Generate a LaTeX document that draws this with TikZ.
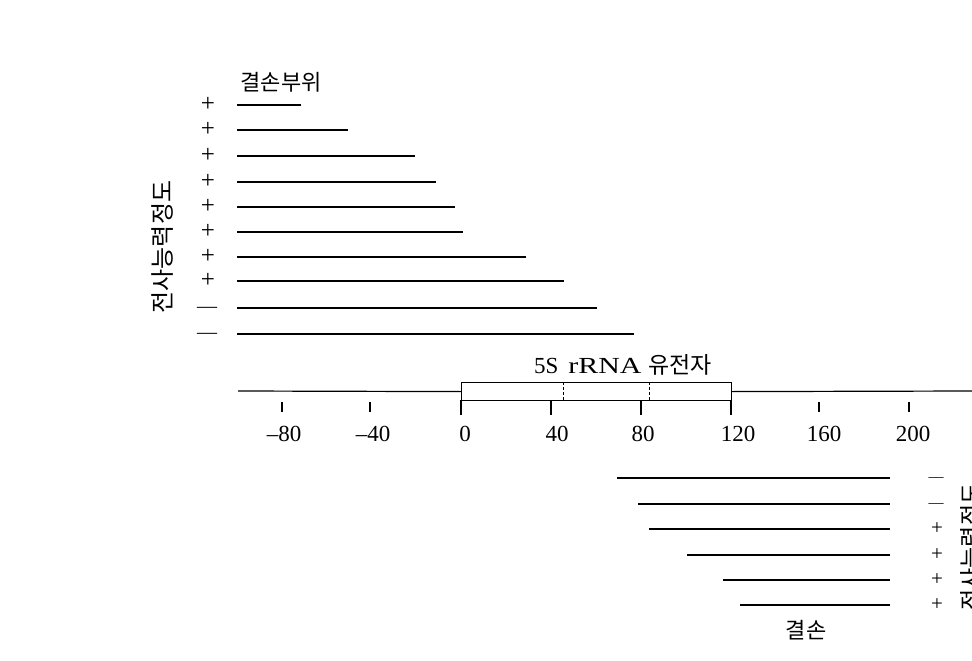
\documentclass[tikz,border=0pt]{standalone}
\usepackage{fontspec}
\setmainfont{Liberation Serif}
\newfontfamily\kr{Noto Sans CJK KR}
\newcommand{\plussign}[1]{{\fontsize{#1}{#1}\selectfont\smash{+}}}
\newcommand{\minussign}[1]{{\fontsize{#1}{#1}\selectfont\smash{—}}}
\begin{document}
\begin{tikzpicture}[x=1pt,y=-1pt,
  del/.style={line width=1.9pt},
  axisline/.style={line width=1.2pt},
  tickline/.style={line width=1.3pt},
  signtext/.style={inner sep=0pt,anchor=base},
  numlabel/.style={inner sep=0pt,font=\fontsize{23}{23}\selectfont},
  krlabel/.style={inner sep=0pt,font=\kr\fontsize{22}{22}\selectfont}]
\fill[white] (0,0) rectangle (972,661);
\useasboundingbox (0,0) rectangle (972,661);
\clip (0,0) rectangle (972,661);

% header labels
\node[krlabel] (hdr) at (281,82) {결손부위};
\node[krlabel,font=\kr\fontsize{24}{24}\selectfont,rotate=90] (vl) at (163,247) {전사능력정도};

% upper deletion series (5' deletions)
\foreach \y/\e/\s [count=\i] in {105/301/\plussign{25},130/348/\plussign{25},156/415/\plussign{25},182/436/\plussign{25},207/455/\plussign{25},232/463/\plussign{25},257/526/\plussign{25},281/564/\plussign{25}}{
  \coordinate (la\i) at (237,\y);
  \coordinate (lb\i) at (\e,\y);
  \draw[del] (la\i) -- (lb\i);
  \node[signtext] (ls\i) at (208,\y+6.5) {\s};
}
\foreach \y/\e [count=\i from 9] in {308/597,334/634}{
  \coordinate (la\i) at (237,\y);
  \coordinate (lb\i) at (\e,\y);
  \draw[del] (la\i) -- (lb\i);
  \node[signtext] (ls\i) at (207,\y+4.5) {\minussign{20}};
}

% gene box and axis
\coordinate (axL) at (238,391);
\coordinate (axR) at (972,391);
\node[draw,line width=1.2pt,minimum width=270pt,minimum height=18pt,inner sep=0pt,anchor=north west] (gene) at (461,382) {};
\draw[axisline] (axL) -- (gene.west);
\draw[axisline] (gene.east) -- (axR);
\draw[line width=0.8pt,densely dashed] (563,382) -- (563,400);
\draw[line width=0.8pt,densely dashed] (649,382) -- (649,400);
\node[inner sep=0pt] (genelbl) at (623,365) {\fontsize{23}{23}\selectfont 5S\hspace{10pt}\scalebox{1.3}[1]{rRNA}\hspace{7pt}{\kr\fontsize{23}{23}\selectfont 유전자}};

% ticks
\foreach \x in {461,551,641,731}{\draw[tickline] (\x,400) -- (\x,415);}
\foreach \x in {282,370,819,909}{\draw[tickline] (\x,402) -- (\x,412);}
\foreach \x/\t [count=\i] in {284/–80,373/–40,465/0,557/40,643/80,738/120,824/160,913/200}{
  \node[numlabel] (tl\i) at (\x,434) {\t};
}

% lower deletion series (3' deletions)
\foreach \y/\b [count=\i] in {478/617,504/638}{
  \coordinate (ra\i) at (\b,\y);
  \coordinate (rb\i) at (890,\y);
  \draw[del] (ra\i) -- (rb\i);
  \node[signtext] (rs\i) at (936,\y+3.5) {\minussign{15}};
}
\foreach \y/\b [count=\i from 3] in {529/649,555/687,580/723,605/740}{
  \coordinate (ra\i) at (\b,\y);
  \coordinate (rb\i) at (890,\y);
  \draw[del] (ra\i) -- (rb\i);
  \node[signtext] (rs\i) at (937,\y+5.5) {\plussign{21}};
}
\node[krlabel,font=\kr\fontsize{23}{23}\selectfont,rotate=90] (vr) at (971,547) {전사능력정도};
\node[krlabel] (ftr) at (806,630) {결손};
\end{tikzpicture}
\end{document}
